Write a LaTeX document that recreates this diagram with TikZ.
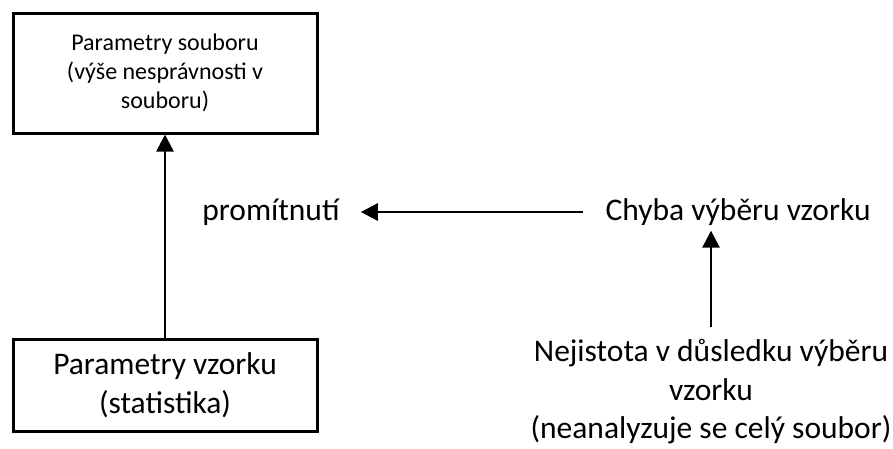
\documentclass[tikz,border=0pt]{standalone}
\usepackage{fontspec}
\setmainfont{Carlito}
\usetikzlibrary{arrows.meta}
\begin{document}
\begin{tikzpicture}[x=1pt,y=-1pt,
  box/.style={draw, line width=3pt, minimum width=304pt, align=center, inner sep=0pt},
  smalltxt/.style={font=\fontsize{24}{29}\selectfont},
  bigtxt/.style={font=\fontsize{31.5}{38.5}\selectfont},
  label/.style={bigtxt, align=center, inner sep=0pt},
  conn/.style={line width=2.6pt, -{Triangle[length=17pt,width=17pt]}}]
\useasboundingbox (0,0) rectangle (893,448);

% population box and sample box
\node[box, smalltxt, minimum height=120pt] (pop) at (165,73)
  {Parametry souboru\\(výše nesprávnosti v\\souboru)};
\node[box, bigtxt, minimum height=92pt] (smp) at (165,385)
  {Parametry vzorku\\(statistika)};

% free-standing labels
\node[label] (prom) at (271,212) {promítnutí};
\node[label] (chyba) at (738,212) {Chyba výběru vzorku};
\node[label] (nej) at (711,392)
  {Nejistota v důsledku výběru\\vzorku\\(neanalyzuje se celý soubor)};

% connectors
\draw[conn] (smp.north) -- (pop.south);
\draw[conn, shorten <=22pt, shorten >=21pt] (chyba.west) -- (prom.east);
\draw[conn, shorten >=5pt] ([yshift=12pt]nej.north) -- (nej.north |- chyba.south);
\end{tikzpicture}
\end{document}
